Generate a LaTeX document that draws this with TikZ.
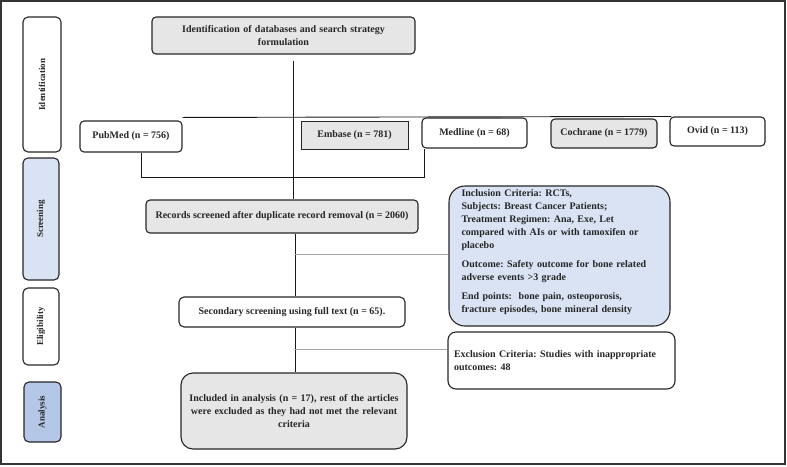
\documentclass[tikz,border=0pt]{standalone}
\usepackage{fontspec}
\setmainfont{Liberation Serif}
\usetikzlibrary{positioning}
\frenchspacing

\definecolor{boxgray}{HTML}{E7E6E6}
\definecolor{lightblue}{HTML}{DAE3F3}
\definecolor{midblue}{HTML}{B4C7E7}
\definecolor{linegray}{HTML}{A6A6A6}

\begin{document}
\begin{tikzpicture}[x=1pt,y=-1pt,
    box/.style={draw=black!85,line width=1.1pt,rounded corners=4pt,text=black!85,
      font=\bfseries\fontsize{10}{13}\selectfont,align=center,inner sep=2pt},
    stage/.style={box,rotate=90,rounded corners=5pt,font=\bfseries\fontsize{9}{11}\selectfont},
    link/.style={draw=black!90,line width=0.9pt},
    thin link/.style={draw=linegray,line width=0.8pt}]
    \useasboundingbox (0,0) rectangle (787,466);
    \draw[black!80,line width=1.2pt] (1,1) rectangle (785,464);

    % stages on the left
    \node[stage,minimum width=135,minimum height=38] (identification) at (42,84.5) {Identification};
    \node[stage,minimum width=122,minimum height=36,fill=lightblue] (screening) at (41,219) {Screening};
    \node[stage,minimum width=77,minimum height=36] (eligibility) at (41,326.5) {Eligibility};
    \node[stage,minimum width=60,minimum height=37,fill=midblue] (analysis) at (42.5,412) {Analysis};

    % databases
    \node[box,fill=boxgray,minimum width=263,minimum height=37,text width=250] (search) at (283.5,35.5)
        {Identification of databases and search strategy\\formulation};
    \node[box,minimum width=102,minimum height=31] (pubmed) at (131,136.5) {PubMed (n = 756)};
    \node[box,fill=boxgray,rounded corners=0pt,line width=1pt,minimum width=107,minimum height=28] (embase) at (354.5,135) {Embase (n = 781)};
    \node[box,minimum width=105,minimum height=30] (medline) at (474.5,133) {Medline (n = 68)};
    \node[box,fill=boxgray,minimum width=106,minimum height=29] (cochrane) at (604,133.5) {Cochrane (n = 1779)};
    \node[box,minimum width=95,minimum height=29] (ovid) at (717.5,131.5) {Ovid (n = 113)};

    % screening and selection
    \node[box,fill=boxgray,minimum width=272,minimum height=33] (records) at (282,216.5)
        {Records screened after duplicate record removal (n = 2060)};
    \node[box,fill=lightblue,rounded corners=16pt,minimum width=221,minimum height=140,
          text width=196,align=left,text depth=126pt] (inclusion) at (559.5,256)
        {Inclusion Criteria: RCTs,\\
         Subjects: Breast Cancer Patients;\\
         Treatment Regimen: Ana, Exe, Let\\
         compared with AIs or with tamoxifen or\\
         placebo\\[6pt]
         Outcome: Safety outcome for bone related\\
         adverse events >3 grade\\[6pt]
         End points:\ \ bone pain, osteoporosis,\\
         fracture episodes, bone mineral density};
    \node[box,rounded corners=5pt,minimum width=226,minimum height=30] (secondary) at (292,312)
        {Secondary screening using full text (n = 65).};
    \node[box,rounded corners=8pt,minimum width=227,minimum height=57,text width=215,align=left] (exclusion) at (561.5,360.5)
        {Exclusion Criteria: Studies with inappropriate\\outcomes: 48};
    \node[box,fill=boxgray,rounded corners=12pt,minimum width=226,minimum height=76,text width=212] (included) at (294,411)
        {Included in analysis (n = 17), rest of the articles\\were excluded as they had not met the relevant\\criteria};

    % connectors
    \draw[link] ([shift={(9.5,6)}]search.south) -- ([xshift=11pt]records.north);
    \draw[link] (pubmed.north east) ++(0,-3) -- ([xshift=2pt]ovid.north west);
    \draw[link] ([xshift=10pt]pubmed.south) -- ++(0,25) -| ([xshift=3pt]medline.south west);
    \draw[link] ([xshift=13pt]records.south) -- ([xshift=3pt]secondary.north);
    \draw[link] ([xshift=3pt]secondary.south) -- ([xshift=1pt]included.north);
    \path ([xshift=13pt]records.south) ++(0,21) coordinate (inclbranch)
          ([xshift=3pt]secondary.south) ++(0,22) coordinate (exclbranch);
    \draw[thin link] (inclbranch) -- (inclbranch -| inclusion.west);
    \draw[thin link] (exclbranch) -- (exclbranch -| exclusion.west);
\end{tikzpicture}
\end{document}
